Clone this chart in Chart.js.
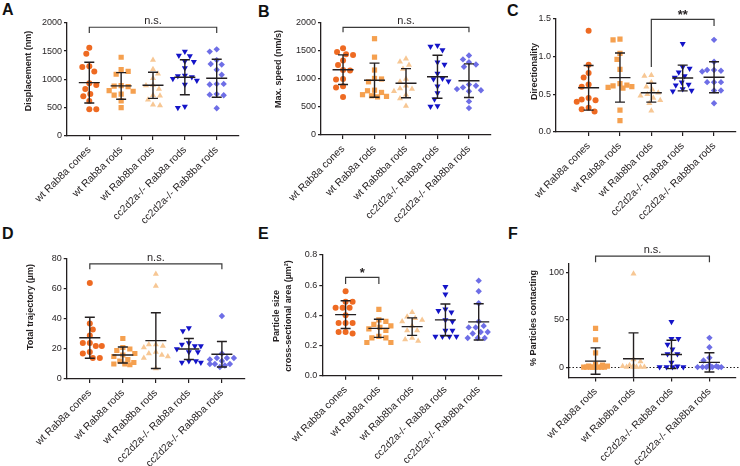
<!DOCTYPE html>
<html>
<head>
<meta charset="utf-8">
<script src="https://cdn.jsdelivr.net/npm/chart.js@4.4.1/dist/chart.umd.min.js"></script>
<style>
  body { margin: 0; background: #fff; }
  #wrap { position: relative; width: 740px; height: 466px; overflow: hidden; }
  #wrap canvas { position: absolute; }
  .tag { position: absolute; font: bold 16px 'Liberation Sans', Arial, sans-serif; line-height: 16px; color: #111; }
</style>
</head>
<body>
<div id="wrap">
  <div class="tag" style="left:2px;top:2px">A</div>
  <div class="tag" style="left:258px;top:4px">B</div>
  <div class="tag" style="left:507px;top:3px">C</div>
  <div class="tag" style="left:2px;top:226px">D</div>
  <div class="tag" style="left:258px;top:226px">E</div>
  <div class="tag" style="left:508px;top:226px">F</div>
</div>
<script>
const categories = ['wt Rab8a cones', 'wt Rab8a rods', 'wt Rab8ba rods', 'cc2d2a-/- Rab8a rods', 'cc2d2a-/- Rab8ba rods'];

// A - displacement (nm)
const displacement = [
  [1560, 1450, 1230, 1220, 1140, 930, 900, 830, 740, 700, 620, 470, 470],
  [1390, 1170, 1140, 1090, 890, 880, 870, 800, 790, 740, 720, 620, 500],
  [1340, 1180, 1100, 1020, 900, 890, 830, 720, 710, 640, 550, 540],
  [1490, 1420, 1410, 1320, 1310, 1200, 1070, 1060, 1040, 1010, 980, 910, 520, 500],
  [1530, 1490, 1340, 1270, 1260, 1170, 1080, 920, 910, 920, 740, 720, 730, 490]
];
const displacementMean = [942, 884, 895, 1037, 1019];
const displacementSd = [360, 235, 230, 310, 336];

// B - max. speed (nm/s)
const maxSpeed = [
  [1550, 1480, 1440, 1430, 1330, 1250, 1160, 1150, 1000, 990, 870, 850, 680],
  [1720, 1390, 1160, 1010, 1000, 950, 800, 790, 760, 720, 700, 690, 680],
  [1360, 1310, 1250, 1180, 1000, 950, 880, 830, 820, 780, 720, 650, 520],
  [1600, 1580, 1520, 1300, 1260, 1100, 1010, 1000, 960, 870, 750, 640, 520, 510],
  [1420, 1350, 1300, 1260, 1220, 900, 880, 850, 820, 800, 780, 600, 480]
];
const maxSpeedMean = [1166, 978, 925, 1040, 970];
const maxSpeedSd = [265, 305, 260, 385, 300];

// C - directionality
const directionality = [
  [1.34, 0.89, 0.78, 0.72, 0.63, 0.60, 0.45, 0.43, 0.42, 0.40, 0.32, 0.30, 0.27],
  [1.23, 1.22, 1.04, 0.96, 0.83, 0.64, 0.62, 0.61, 0.60, 0.59, 0.58, 0.29, 0.15],
  [0.75, 0.74, 0.66, 0.60, 0.56, 0.52, 0.50, 0.48, 0.45, 0.42, 0.38, 0.28],
  [1.17, 0.86, 0.84, 0.79, 0.74, 0.72, 0.66, 0.63, 0.62, 0.57, 0.55, 0.54],
  [1.22, 0.93, 0.82, 0.82, 0.81, 0.80, 0.66, 0.66, 0.66, 0.55, 0.55, 0.38]
];
const directionalityMean = [0.585, 0.72, 0.52, 0.715, 0.725];
const directionalitySd = [0.295, 0.325, 0.125, 0.17, 0.205];

// D - total trajectory (um)
const trajectory = [
  [64, 37, 33, 29, 24, 24, 22, 22, 18, 17, 14, 14],
  [27, 21, 20, 19, 17, 16, 15, 13, 12, 11, 10, 10, 9.5],
  [70, 62, 23, 23, 22, 21, 18, 17, 16, 15, 14, 7],
  [34, 32, 24, 23, 22, 22, 20, 18, 18, 12, 12, 11, 11],
  [42, 17, 14, 14, 14, 13, 12, 10, 10, 10, 9, 8]
];
const trajectoryMean = [27.5, 16, 25.6, 20, 16.5];
const trajectorySd = [13.7, 5.3, 18.6, 7, 8.5];

// E - particle size, cross-sectional area (um2)
const particleSize = [
  [0.56, 0.49, 0.49, 0.45, 0.45, 0.45, 0.40, 0.35, 0.35, 0.35, 0.29, 0.28, 0.29],
  [0.44, 0.37, 0.36, 0.34, 0.33, 0.32, 0.31, 0.30, 0.26, 0.25, 0.25, 0.22, 0.22],
  [0.42, 0.39, 0.38, 0.37, 0.36, 0.33, 0.30, 0.30, 0.25, 0.24, 0.23],
  [0.59, 0.54, 0.44, 0.43, 0.42, 0.37, 0.36, 0.30, 0.30, 0.26, 0.26, 0.26, 0.26],
  [0.63, 0.56, 0.48, 0.36, 0.33, 0.32, 0.32, 0.29, 0.29, 0.28, 0.25, 0.25, 0.25]
];
const particleSizeMean = [0.405, 0.314, 0.325, 0.37, 0.357];
const particleSizeSd = [0.092, 0.06, 0.058, 0.105, 0.12];

// F - % particles contacting (no cones)
const contacting = [
  [41, 29, 15, 3, 2, 1, 1, 0, 0, 0, 0, 0, 0, 0, 0],
  [99, 8, 6, 2, 1, 0, 0, 0, 0, 0, 0],
  [48, 30, 30, 24, 19, 14, 14, 5, 1, 0, 0, 0, 0],
  [31, 21, 10, 7, 2, 1, 0, 0, 0, 0, 0, 0, 0]
];
const contactingMean = [6.4, 8.8, 13.4, 5];
const contactingSd = [14, 27.5, 15, 10.2];

const groupColors = ['#EE6A22', '#F5A04F', '#F7C794', '#1414C8', '#6E6EE6'];
const groupShapes = ['circle', 'rect', 'triangle', 'triangle', 'rectRot'];
const groupRotation = [0, 0, 0, 180, 0];
const groupRadius = [3, 3.7, 3.5, 3.5, 3.2];

const FONT = "'Liberation Sans', Arial, Helvetica, sans-serif";
const INK = '#231f20';

// beeswarm-like spreading of points, worked out in approximate pixels
// pxX / pxY: pixels per x unit / per y unit; returns x offsets in category units
function swarm(values, pxX, pxY) {
  const D = 6.6, cap = 12;
  const order = values.map((v, i) => i).sort((a, b) => values[b] - values[a]);
  const placed = [];
  const offs = new Array(values.length).fill(0);
  order.forEach((i, k) => {
    const py = values[i] * pxY;
    const sign = k % 2 ? -1 : 1;
    let best = 0, bestGap = -1;
    for (let s = 0; s <= cap; s += 1) {
      for (const dir of [sign, -sign]) {
        const px = dir * s;
        let gap = Infinity;
        placed.forEach(q => { gap = Math.min(gap, Math.hypot(q[0] - px, q[1] - py)); });
        if (gap >= D) { best = px; bestGap = Infinity; break; }
        if (gap > bestGap) { bestGap = gap; best = px; }
        if (s === 0) break;
      }
      if (bestGap === Infinity) break;
    }
    placed.push([best, py]);
    offs[i] = best / pxX;
  });
  return offs;
}

const meanSdPlugin = {
  id: 'meanSd',
  afterDatasetsDraw(chart, args, o) {
    const {ctx, chartArea: a, scales: {x, y}} = chart;
    ctx.save();
    ctx.beginPath();
    ctx.rect(a.left, a.top, a.right - a.left, a.bottom - a.top);
    ctx.clip();
    ctx.strokeStyle = INK;
    ctx.lineWidth = 1.4;
    o.means.forEach((m, i) => {
      const px = x.getPixelForValue(i);
      const py = y.getPixelForValue(m);
      const hi = y.getPixelForValue(m + o.sds[i]);
      const lo = y.getPixelForValue(m - o.sds[i]);
      ctx.beginPath();
      ctx.moveTo(px, hi); ctx.lineTo(px, lo);
      ctx.moveTo(px - 5, hi); ctx.lineTo(px + 5, hi);
      ctx.moveTo(px - 5, lo); ctx.lineTo(px + 5, lo);
      ctx.moveTo(px - 10.5, py); ctx.lineTo(px + 10.5, py);
      ctx.stroke();
    });
    ctx.restore();
  }
};

const bracketPlugin = {
  id: 'bracket',
  afterDraw(chart, args, o) {
    if (!o.label) return;
    const {ctx, scales: {x, y}} = chart;
    const x1 = x.getPixelForValue(o.from), x2 = x.getPixelForValue(o.to);
    const yl = y.getPixelForValue(o.at);
    ctx.save();
    ctx.strokeStyle = '#3a3a3a';
    ctx.lineWidth = 1.2;
    ctx.beginPath();
    ctx.moveTo(x1, y.getPixelForValue(o.leftEnd));
    ctx.lineTo(x1, yl);
    ctx.lineTo(x2, yl);
    ctx.lineTo(x2, y.getPixelForValue(o.rightEnd));
    ctx.stroke();
    ctx.fillStyle = INK;
    ctx.font = o.font;
    ctx.textAlign = 'center';
    ctx.textBaseline = 'alphabetic';
    ctx.fillText(o.label, (x1 + x2) / 2, yl - o.gap);
    ctx.restore();
  }
};

const zeroLinePlugin = {
  id: 'zeroLine',
  beforeDatasetsDraw(chart, args, o) {
    if (!o.show) return;
    const {ctx, chartArea: a, scales: {y}} = chart;
    const py = Math.round(y.getPixelForValue(0)) + 0.5;
    ctx.save();
    ctx.strokeStyle = INK;
    ctx.lineWidth = 1;
    ctx.setLineDash([1.5, 2]);
    ctx.beginPath();
    ctx.moveTo(a.left, py);
    ctx.lineTo(chart.width, py);
    ctx.stroke();
    ctx.restore();
  }
};

// y axis title, placed where the figure has it (not centred on the axis)
const yTitlePlugin = {
  id: 'yTitle',
  afterDraw(chart, args, o) {
    const {ctx} = chart;
    const lines = [].concat(o.text);
    ctx.save();
    ctx.fillStyle = INK;
    ctx.font = 'bold ' + o.size + 'px ' + FONT;
    ctx.textAlign = 'center';
    ctx.textBaseline = 'middle';
    lines.forEach((t, i) => {
      ctx.save();
      ctx.translate(o.x + i * o.lineGap, o.y);
      ctx.rotate(-Math.PI / 2);
      ctx.fillText(t, 0, 0);
      ctx.restore();
    });
    ctx.restore();
  }
};

function makePanel(p) {
  const [bl, bt, bw, bh] = p.box;
  const [al, at, ar, ab] = p.area;
  const canvas = document.createElement('canvas');
  canvas.width = bw; canvas.height = bh;
  canvas.style.left = bl + 'px'; canvas.style.top = bt + 'px';
  document.getElementById('wrap').appendChild(canvas);

  const cats = p.cats;
  const off = p.groupOffset;
  const xMin = p.xMin ?? -0.7;
  const xMax = cats.length - 1 + 0.7;
  const pxX = (ar - al) / (xMax - xMin);
  const pxY = (ab - at) / (p.yMax - p.yMin);
  const datasets = p.data.map((vals, g) => {
    const offs = swarm(vals, pxX, pxY);
    const s = g + off;
    return {
      data: vals.map((v, i) => ({x: g + offs[i], y: v})),
      pointStyle: groupShapes[s],
      rotation: groupRotation[s],
      pointRadius: groupRadius[s],
      backgroundColor: groupColors[s],
      borderColor: groupColors[s],
      borderWidth: 0,
      showLine: false
    };
  });

  new Chart(canvas, {
    type: 'scatter',
    plugins: [zeroLinePlugin, meanSdPlugin, bracketPlugin, yTitlePlugin],
    data: {datasets},
    options: {
      responsive: false,
      animation: false,
      devicePixelRatio: 1,
      layout: {padding: {left: 0, top: at - bt, right: bl + bw - ar, bottom: 0}},
      plugins: {
        legend: {display: false},
        tooltip: {enabled: false},
        meanSd: {means: p.means, sds: p.sds},
        bracket: p.bracket,
        zeroLine: {show: !!p.zeroLine},
        yTitle: {text: p.title, x: p.titlePos[0] - bl, y: p.titlePos[1] - bt, size: 9, lineGap: 11.5}
      },
      scales: {
        x: {
          type: 'linear',
          min: xMin,
          max: xMax,
          afterBuildTicks: s => { s.ticks = cats.map((c, i) => ({value: i})); },
          afterFit: s => { s.height = bt + bh - ab; },
          ticks: {
            autoSkip: false, minRotation: 45, maxRotation: 45, padding: 4,
            color: INK, font: {family: FONT, size: 10.3},
            callback: v => cats[v]
          },
          grid: {display: true, drawOnChartArea: false, drawTicks: true, tickLength: 4, color: INK, lineWidth: 1.2},
          border: {display: true, color: INK, width: 1.3}
        },
        y: {
          type: 'linear',
          min: p.yMin,
          max: p.yMax,
          afterBuildTicks: s => { s.ticks = p.yTicks.map(v => ({value: v})); },
          afterFit: s => { s.width = al - bl; },
          ticks: {
            color: INK, font: {family: FONT, size: 9}, padding: 2,
            callback: v => v.toFixed(p.decimals)
          },
          grid: {display: true, drawOnChartArea: false, drawTicks: true, tickLength: 3, color: INK, lineWidth: 1.2},
          border: {display: true, color: INK, width: 1.3}
        }
      }
    }
  });
}

const fontNs = "11px " + FONT;
const fontStar = "bold 13px " + FONT;

const panels = [
  {
    box: [0, 0, 262, 240], area: [67, 22.7, 239, 136], titlePos: [29, 71],
    title: 'Displacement (nm)', cats: categories, groupOffset: 0,
    data: displacement, means: displacementMean, sds: displacementSd,
    yMin: 0, yMax: 2000, yTicks: [0, 500, 1000, 1500, 2000], decimals: 0,
    bracket: {from: 0, to: 4, at: 1920, leftEnd: 1818, rightEnd: 1818, label: 'n.s.', font: fontNs, gap: 3}
  },
  {
    box: [245, 0, 262, 240], area: [321, 23, 491, 135], titlePos: [279, 69],
    title: 'Max. speed (nm/s)', cats: categories, groupOffset: 0,
    data: maxSpeed, means: maxSpeedMean, sds: maxSpeedSd,
    yMin: 0, yMax: 2000, yTicks: [0, 500, 1000, 1500, 2000], decimals: 0,
    bracket: {from: 0, to: 4, at: 1923, leftEnd: 1834, rightEnd: 1834, label: 'n.s.', font: fontNs, gap: 3}
  },
  {
    box: [490, 0, 250, 240], area: [556, 18.7, 738, 132], titlePos: [535, 71.5], xMin: -1.04,
    title: 'Directionality', cats: categories, groupOffset: 0,
    data: directionality, means: directionalityMean, sds: directionalitySd,
    yMin: 0, yMax: 1.5, yTicks: [0, 0.5, 1, 1.5], decimals: 1,
    bracket: {from: 2, to: 4, at: 1.492, leftEnd: 0.86, rightEnd: 1.403, label: '**', font: fontStar, gap: 0}
  },
  {
    box: [0, 240, 262, 226], area: [66.7, 259, 245, 379], titlePos: [31, 307],
    title: 'Total trajectory (µm)', cats: categories, groupOffset: 0,
    data: trajectory, means: trajectoryMean, sds: trajectorySd,
    yMin: 0, yMax: 80, yTicks: [0, 20, 40, 60, 80], decimals: 0,
    bracket: {from: 0, to: 4, at: 76.7, leftEnd: 73.1, rightEnd: 73.1, label: 'n.s.', font: fontNs, gap: 3}
  },
  {
    box: [245, 240, 262, 226], area: [322.3, 255, 502, 375.7], titlePos: [277, 316],
    title: ['Particle size', 'cross-sectional area (µm²)'], cats: categories, groupOffset: 0,
    data: particleSize, means: particleSizeMean, sds: particleSizeSd,
    yMin: 0, yMax: 0.8, yTicks: [0, 0.2, 0.4, 0.6, 0.8], decimals: 1,
    bracket: {from: 0, to: 1, at: 0.652, leftEnd: 0.607, rightEnd: 0.607, label: '*', font: fontStar, gap: 0}
  },
  {
    box: [490, 240, 250, 226], area: [569, 263.3, 738, 377.5], titlePos: [534, 318],
    title: '% Particles contacting', cats: categories.slice(1), groupOffset: 1,
    data: contacting, means: contactingMean, sds: contactingSd,
    yMin: -11, yMax: 110, yTicks: [0, 50, 100], decimals: 0, zeroLine: true,
    bracket: {from: 0, to: 3, at: 117.6, leftEnd: 111.2, rightEnd: 111.2, label: 'n.s.', font: fontNs, gap: 3}
  }
];

panels.forEach(makePanel);
</script>
</body>
</html>
